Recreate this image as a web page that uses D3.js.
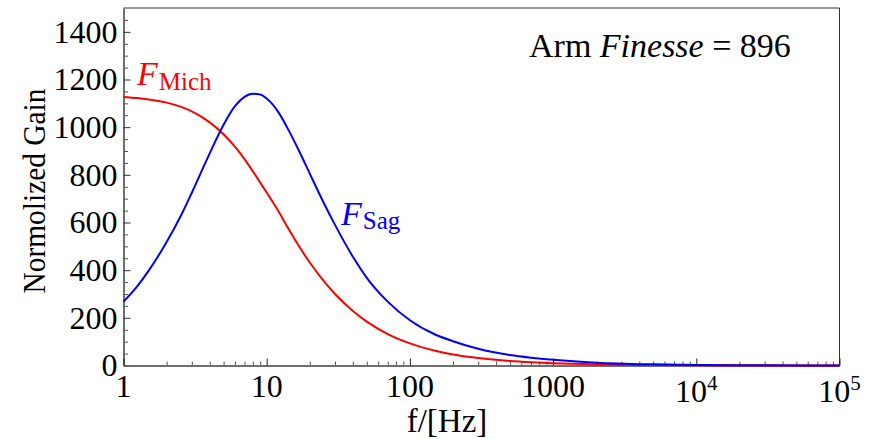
<!DOCTYPE html>
<html>
<head>
<meta charset="utf-8">
<script src="https://cdn.jsdelivr.net/npm/d3@7"></script>
<style>
  html, body { margin: 0; padding: 0; background: #fff; }
  svg { display: block; font-family: "Liberation Serif", "Times New Roman", serif; }
</style>
</head>
<body>
<svg id="chart" width="877" height="439"></svg>
<script>
// Frequency samples (Hz)
const freqs = [1, 1.25, 1.5, 2, 2.5, 3, 4, 5, 6, 7, 8, 9, 10, 12, 14, 17, 20, 25, 30, 40, 50, 70, 100, 150, 200, 300, 500, 700, 1000, 2000, 5000, 1e4, 3e4, 1e5];
// Michelson gain F_Mich
const gainMich = [1127, 1122, 1116, 1103, 1086, 1066, 1020, 970, 918, 866, 815, 768, 726, 650, 580, 496, 432, 355, 300, 229, 184, 132, 93, 62, 46, 31, 18.6, 13.3, 9.3, 4.6, 1.9, 0.9, 0.3, 0.1];
// Sagnac gain F_Sag
const gainSag = [268, 333, 398, 518, 625, 725, 890, 1010, 1088, 1127, 1140, 1137, 1120, 1065, 995, 895, 805, 683, 590, 456, 368, 268, 190, 130, 102, 70, 44, 33, 24, 12, 5, 2.5, 0.8, 0.2];

// Axis ticks
const yMajor = [0, 200, 400, 600, 800, 1000, 1200, 1400];
const yMinor = d3.range(50, 1500, 50).filter(v => v % 200 !== 0);
const xMajor = [1, 10, 100, 1000, 1e4, 1e5];
const xLabels = [["1"], ["10"], ["100"], ["1000"], ["10", "4"], ["10", "5"]];
const xMinor = [];
for (let d = 1; d < 1e5; d *= 10) for (let m = 2; m <= 9; m++) xMinor.push(d * m);

const svg = d3.select("#chart");
const x = d3.scaleLog().domain([1, 1e5]).range([123.5, 839.5]);
const y = d3.scaleLinear().domain([0, 1500]).range([365.5, 8]);

// frame: top and right edges
svg.append("path")
  .attr("d", `M${x(1)},${y(1500)}H${x(1e5)}V${y(0)}`)
  .attr("fill", "none").attr("stroke", "#333").attr("stroke-width", 1);

// left axis
const gy = svg.append("g").attr("transform", `translate(${x(1)},0)`);
gy.call(d3.axisLeft(y).tickValues(yMinor).tickSize(-4.5).tickSizeOuter(0).tickFormat(""));
gy.selectAll(".tick line").attr("stroke", "#555");
const gy2 = svg.append("g").attr("transform", `translate(${x(1)},0)`);
gy2.call(d3.axisLeft(y).tickValues(yMajor).tickSize(-7).tickSizeOuter(0).tickPadding(6).tickFormat(d3.format("d")));
gy2.selectAll(".tick line").attr("stroke", "#333");
gy2.selectAll(".tick text").attr("font-size", 32).attr("fill", "#000")
  .attr("font-family", "Liberation Serif, serif").attr("dy", "0.32em");

// bottom axis
const gx = svg.append("g").attr("transform", `translate(0,${y(0)})`);
gx.call(d3.axisBottom(x).tickValues(xMinor).tickSize(-4).tickSizeOuter(0).tickFormat(""));
gx.selectAll(".tick line").attr("stroke", "#555");
const gx2 = svg.append("g").attr("transform", `translate(0,${y(0)})`);
gx2.call(d3.axisBottom(x).tickValues(xMajor).tickSize(-7).tickSizeOuter(0).tickFormat(""));
gx2.selectAll(".tick line").attr("stroke", "#222");
svg.selectAll(".domain").attr("stroke", "#666").attr("stroke-width", 1.5);

// x tick labels (powers of ten shown with superscripts)
const xl = svg.append("g").attr("fill", "#000");
xMajor.forEach((v, i) => {
  const parts = xLabels[i];
  const t = xl.append("text").attr("x", x(v)).attr("text-anchor", "middle").attr("font-size", 32);
  if (parts.length === 1) {
    t.attr("y", 397).text(parts[0]);
  } else {
    t.attr("y", 402);
    t.append("tspan").text(parts[0]);
    t.append("tspan").attr("font-size", 21).attr("dy", -12).text(parts[1]);
  }
});

// curves
const line = d3.line()
  .x((d, i) => x(freqs[i]))
  .y(d => y(d))
  .curve(d3.curveMonotoneX);

svg.append("path").datum(gainMich)
  .attr("d", line).attr("fill", "none").attr("stroke", "#ff0000").attr("stroke-width", 2);
svg.append("path").datum(gainSag)
  .attr("d", line).attr("fill", "none").attr("stroke", "#0000ff").attr("stroke-width", 2);

// axis titles
svg.append("text").attr("x", 447).attr("y", 432).attr("text-anchor", "middle")
  .attr("font-size", 33).text("f/[Hz]");
svg.append("text").attr("transform", "translate(45,191) rotate(-90)")
  .attr("text-anchor", "middle").attr("font-size", 32)
  .attr("textLength", 205).attr("lengthAdjust", "spacingAndGlyphs")
  .text("Normolized Gain");

// annotation
const ann = svg.append("text").attr("x", 529).attr("y", 57).attr("font-size", 34);
ann.append("tspan").text("Arm ");
ann.append("tspan").attr("font-style", "italic").text("Finesse");
ann.append("tspan").text(" = 896");

// curve labels
const lm = svg.append("text").attr("x", 137).attr("y", 85).attr("fill", "#ff0000");
lm.append("tspan").attr("font-style", "italic").attr("font-size", 34).text("F");
lm.append("tspan").attr("font-size", 25).attr("dy", 5).attr("dx", 1).text("Mich");

const ls = svg.append("text").attr("x", 341).attr("y", 225).attr("fill", "#0000ff");
ls.append("tspan").attr("font-style", "italic").attr("font-size", 34).text("F");
ls.append("tspan").attr("font-size", 25).attr("dy", 4).attr("dx", 1).text("Sag");
</script>
</body>
</html>
